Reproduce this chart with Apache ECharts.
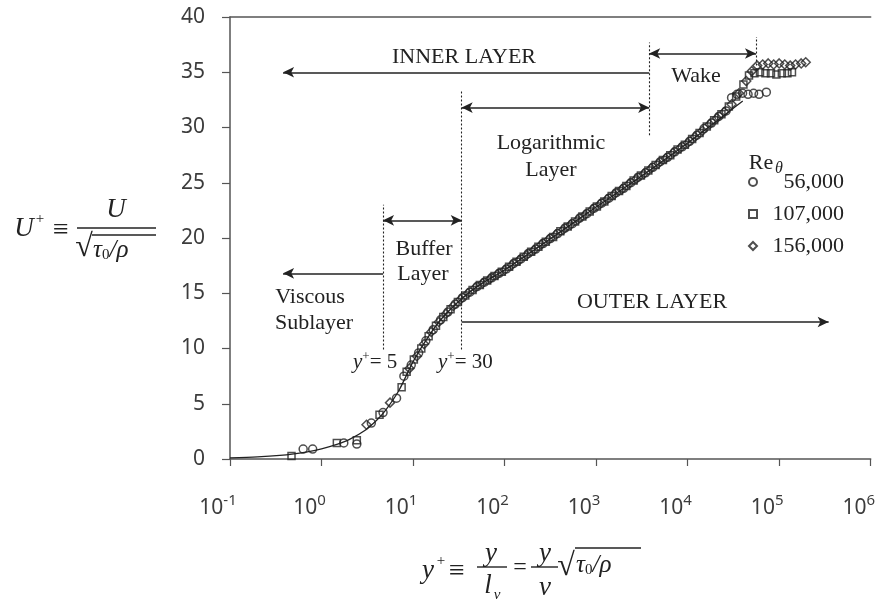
<!DOCTYPE html>
<html>
<head>
<meta charset="utf-8">
<script src="https://cdn.jsdelivr.net/npm/echarts@6/dist/echarts.min.js"></script>
<style>
  html, body { margin: 0; padding: 0; background: #fff; }
  #chart { width: 878px; height: 606px; }
</style>
</head>
<body>
<div id="chart"></div>
<script>
// Re_theta = 56,000 (circles)
const yPlusA = [0.63, 0.8, 1.75, 2.43, 3.5, 4.7, 6.6,
  7.94, 9.55, 11.5, 13.8, 16.6, 20.0, 24.0, 28.8, 34.7, 41.7,
  50.1, 60.3, 72.4, 87.1, 105, 126, 151, 182, 219, 263,
  316, 380, 457, 550, 661, 794, 955, 1150, 1380, 1660,
  2000, 2400, 2880, 3470, 4170, 5010, 6030, 7240, 8710, 10500,
  12600, 15100, 18200, 21900, 26300,
  30200, 34700, 39800, 45700, 52500, 60300, 72400];
const uA = [0.9, 0.9, 1.45, 1.35, 3.25, 4.2, 5.5,
  7.5, 8.5, 9.6, 10.7, 11.7, 12.6, 13.3, 14.0, 14.6, 15.1,
  15.6, 16.0, 16.4, 16.8, 17.2, 17.7, 18.1, 18.6, 19.0, 19.5,
  19.95, 20.4, 20.9, 21.3, 21.8, 22.2, 22.7, 23.15, 23.6, 24.1,
  24.5, 25.0, 25.5, 25.9, 26.4, 26.9, 27.3, 27.8, 28.25, 28.75,
  29.3, 29.9, 30.4, 31.0, 31.5,
  32.7, 33.0, 33.1, 33.0, 33.1, 33.0, 33.2];

// Re_theta = 107,000 (squares)
const yPlusB = [0.47, 1.47, 2.43, 4.3, 7.5,
  8.51, 10.2, 12.3, 14.8, 17.8, 21.4, 25.7, 30.9, 37.2, 44.7,
  53.7, 64.6, 77.6, 93.3, 112, 135, 162, 195, 234, 282,
  339, 407, 490, 589, 708, 851, 1020, 1230, 1480, 1780,
  2140, 2570, 3090, 3720, 4470, 5370, 6460, 7760, 9330, 11200,
  13500, 16200, 19500, 23400, 28200, 33900, 40700,
  46800, 53700, 61700, 70800, 81300, 93300, 107000, 123000, 138000];
const uB = [0.27, 1.45, 1.7, 4.0, 6.5,
  7.9, 9.0, 10.0, 11.1, 12.05, 12.85, 13.55, 14.2, 14.8, 15.3,
  15.75, 16.15, 16.55, 16.95, 17.4, 17.85, 18.3, 18.75, 19.2, 19.65,
  20.1, 20.6, 21.05, 21.5, 21.95, 22.4, 22.85, 23.3, 23.8, 24.25,
  24.7, 25.2, 25.65, 26.1, 26.6, 27.05, 27.5, 28.0, 28.45, 28.95,
  29.5, 30.1, 30.65, 31.2, 31.9, 32.8, 33.9,
  34.7, 34.9, 35.0, 34.9, 34.9, 34.8, 34.9, 34.9, 35.0];

// Re_theta = 156,000 (diamonds)
const yPlusC = [3.1, 5.6,
  9.12, 11.0, 13.2, 15.8, 19.1, 22.9, 27.5, 33.1, 39.8, 47.9,
  57.5, 69.2, 83.2, 100, 120, 145, 174, 209, 251, 302,
  363, 437, 525, 631, 759, 912, 1100, 1320, 1580, 1910,
  2290, 2750, 3310, 3980, 4790, 5750, 6920, 8320, 10000, 12000,
  14500, 17400, 20900, 25100, 30200, 36300, 43700, 50100,
  57500, 66100, 75900, 87100, 100000, 115000, 132000, 151000, 174000, 195000];
const uC = [3.1, 5.1,
  8.2, 9.3, 10.4, 11.5, 12.4, 13.15, 13.85, 14.45, 15.0, 15.5,
  15.9, 16.3, 16.7, 17.1, 17.55, 18.0, 18.45, 18.9, 19.4, 19.85,
  20.3, 20.75, 21.2, 21.65, 22.1, 22.6, 23.05, 23.5, 23.95, 24.4,
  24.9, 25.35, 25.8, 26.3, 26.75, 27.2, 27.7, 28.15, 28.6, 29.15,
  29.7, 30.3, 30.85, 31.4, 32.1, 33.1, 34.2, 35.1,
  35.6, 35.7, 35.8, 35.7, 35.8, 35.7, 35.6, 35.7, 35.8, 35.9];

// solid law-of-the-wall curve
const lawYPlus = [0.1, 0.2, 0.35, 0.5, 0.7, 1, 1.5, 2, 3, 4, 5, 7, 10, 14, 20, 30, 50, 100, 300, 1000, 3000, 10000, 40000];
const lawU = [0.1, 0.2, 0.33, 0.47, 0.65, 0.92, 1.35, 1.75, 2.6, 3.5, 4.4, 6.2, 8.8, 10.8, 12.6, 14.1, 15.6, 17.1, 19.8, 22.8, 25.5, 28.6, 32.4];

const reNames = ['56,000', '107,000', '156,000'];
const xExponents = [-1, 0, 1, 2, 3, 4, 5, 6];

const ink = '#222';
const axisCol = '#555';
const labCol = '#3c3c3c';
const serif = '"Liberation Serif", "Times New Roman", serif';
const sans = '"Noto Sans", sans-serif';

const zip = (xs, ys) => xs.map((x, i) => [x, ys[i]]);

const chart = echarts.init(document.getElementById('chart'));

const markers = (name, symbol, size, xs, ys) => ({
    name: name,
    type: 'scatter',
    symbol: symbol,
    symbolSize: size,
    data: zip(xs, ys),
    silent: true,
    itemStyle: { color: 'rgba(0,0,0,0)', borderColor: ink, borderWidth: 1.5 },
    z: 3
});

const txt = (text, x, y, size, italic, align) => ({
    type: 'text', silent: true, x: x, y: y,
    style: {
        text: text,
        font: (italic ? 'italic ' : '') + size + 'px ' + serif,
        fill: ink,
        align: align || 'center',
        verticalAlign: 'middle'
    }
});
const rule = (x1, y1, x2, y2, w) => ({
    type: 'line', silent: true,
    shape: { x1: x1, y1: y1, x2: x2, y2: y2 },
    style: { stroke: ink, lineWidth: w || 1.4 }
});
const richTxt = (text, x, y, rich) => ({
    type: 'text', silent: true, x: x, y: y,
    style: { text: text, fill: ink, align: 'left', verticalAlign: 'middle', rich: rich }
});
const fracRich = {
    i: { fontFamily: serif, fontStyle: 'italic', fontSize: 25, fill: ink },
    s: { fontFamily: serif, fontSize: 15, fill: ink, padding: [10, 0, 0, 0] }
};
const yEqRich = {
    i: { fontFamily: serif, fontStyle: 'italic', fontSize: 21, fill: ink },
    p: { fontFamily: serif, fontSize: 13, fill: ink, padding: [0, 0, 11, 0] },
    n: { fontFamily: serif, fontSize: 21, fill: ink }
};

const option = {
    animation: false,
    backgroundColor: '#fff',
    grid: { left: 230, right: 5, top: 17, bottom: 147 },
    xAxis: [{
        type: 'log',
        logBase: 10,
        min: 0.1,
        max: 1e6,
        splitNumber: 7,
        axisLine: { show: true, lineStyle: { color: axisCol, width: 1.5 } },
        axisTick: { show: true, length: 7, lineStyle: { color: axisCol, width: 1.2 } },
        splitLine: { show: false },
        minorTick: { show: false },
        axisLabel: {
            margin: 34,
            padding: [0, 24, 0, 0],
            formatter: v => {
                const e = Math.round(Math.log10(v));
                return xExponents.includes(e) ? '{b|10}{s|' + e + '}' : '';
            },
            rich: {
                b: { fontFamily: sans, fontSize: 21, color: labCol },
                s: { fontFamily: sans, fontSize: 15, color: labCol, padding: [0, 0, 16, 0] }
            }
        }
    }, {
        type: 'log',
        logBase: 10,
        min: 0.1,
        max: 1e6,
        position: 'top',
        axisLine: { show: true, lineStyle: { color: axisCol, width: 1.5 } },
        axisTick: { show: false },
        axisLabel: { show: false },
        splitLine: { show: false }
    }],
    yAxis: {
        type: 'value',
        min: 0,
        max: 40,
        interval: 5,
        axisLine: { show: true, lineStyle: { color: axisCol, width: 1.5 } },
        axisTick: { show: true, length: 8, lineStyle: { color: axisCol, width: 1.2 } },
        splitLine: { show: false },
        axisLabel: { fontFamily: sans, fontSize: 21, color: labCol, margin: 25 }
    },
    legend: {
        data: reNames,
        orient: 'vertical',
        left: 743,
        top: 166,
        itemWidth: 8,
        itemHeight: 8,
        itemGap: 10,
        selectedMode: false,
        formatter: n => '{n|' + n + '}',
        textStyle: {
            color: ink,
            rich: { n: { width: 82, align: 'right', fontFamily: serif, fontSize: 22, color: ink } }
        }
    },
    series: [
        {
            name: 'law',
            type: 'line',
            data: zip(lawYPlus, lawU),
            smooth: 0.3,
            showSymbol: false,
            silent: true,
            lineStyle: { color: ink, width: 1.3 },
            z: 2
        },
        markers(reNames[0], 'circle', 8, yPlusA, uA),
        markers(reNames[1], 'rect', 7, yPlusB, uB),
        markers(reNames[2], 'diamond', 9, yPlusC, uC),
        {
            name: 'dashes',
            type: 'line',
            data: [],
            silent: true,
            markLine: {
                silent: true,
                animation: false,
                symbol: ['none', 'none'],
                label: { show: false },
                emphasis: { disabled: true },
                lineStyle: { color: ink, width: 1.1, type: [2, 2] },
                data: [
                    [{ coord: [4.7, 9.9] }, { coord: [4.7, 23.0] }],
                    [{ coord: [34, 9.9] }, { coord: [34, 33.4] }],
                    [{ coord: [3800, 29.3] }, { coord: [3800, 37.7] }],
                    [{ coord: [55800, 35.6] }, { coord: [55800, 38.2] }]
                ]
            }
        },
        {
            name: 'spans',
            type: 'line',
            data: [],
            silent: true,
            markLine: {
                silent: true,
                animation: false,
                symbol: ['arrow', 'arrow'],
                symbolSize: [8, 11],
                label: { show: false },
                emphasis: { disabled: true },
                lineStyle: { color: ink, width: 1.5, type: 'solid' },
                data: [
                    [{ coord: [4.7, 21.6] }, { coord: [34, 21.6] }],
                    [{ coord: [34, 31.8] }, { coord: [3800, 31.8] }],
                    [{ coord: [3800, 36.7] }, { coord: [55800, 36.7] }]
                ]
            }
        },
        {
            name: 'pointers',
            type: 'line',
            data: [],
            silent: true,
            markLine: {
                silent: true,
                animation: false,
                symbol: ['none', 'arrow'],
                symbolSize: [8, 11],
                label: { show: false },
                emphasis: { disabled: true },
                lineStyle: { color: ink, width: 1.5, type: 'solid' },
                data: [
                    [{ coord: [3800, 35] }, { coord: [0.38, 35] }],
                    [{ coord: [4.7, 16.8] }, { coord: [0.38, 16.8] }],
                    [{ coord: [34, 12.4] }, { coord: [347000, 12.4] }]
                ]
            }
        }
    ],
    graphic: [
        // region labels
        txt('INNER LAYER', 464, 57, 22),
        txt('Wake', 696, 76, 22),
        txt('Logarithmic', 551, 143, 22),
        txt('Layer', 551, 170, 22),
        txt('Buffer', 424, 249, 22),
        txt('Layer', 423, 274, 22),
        txt('Viscous', 310, 297, 22),
        txt('Sublayer', 314, 323, 22),
        txt('OUTER LAYER', 652, 302, 22),
        richTxt('{i|y}{p|+}{n|= 5}', 353, 362, yEqRich),
        richTxt('{i|y}{p|+}{n|= 30}', 438, 362, yEqRich),
        // legend title
        txt('Re', 761, 163, 22),
        txt('θ', 779, 169, 16, true),
        // y-axis title
        txt('U', 24, 229, 27, true),
        txt('+', 40, 219, 15),
        txt('≡', 61, 231, 28),
        txt('U', 116, 210, 27, true),
        rule(77, 228, 156, 228),
        txt('√', 84, 248, 32),
        rule(92, 235, 156, 235),
        richTxt('{i|τ}{s|0}{i|/ρ}', 93, 250, fracRich),
        // x-axis title
        txt('y', 428, 571, 27, true),
        txt('+', 441, 561, 15),
        txt('≡', 457, 572, 28),
        txt('y', 491, 554, 27, true),
        rule(477, 567, 507, 567),
        txt('l', 488, 586, 27, true),
        txt('ν', 497, 595, 15, true),
        txt('=', 520, 568, 24),
        txt('y', 545, 554, 27, true),
        rule(531, 567, 558, 567),
        txt('ν', 545, 588, 27, true),
        txt('√', 566, 567, 32),
        rule(575, 548, 641, 548),
        richTxt('{i|τ}{s|0}{i|/ρ}', 576, 565, fracRich)
    ]
};

chart.setOption(option);
</script>
</body>
</html>
